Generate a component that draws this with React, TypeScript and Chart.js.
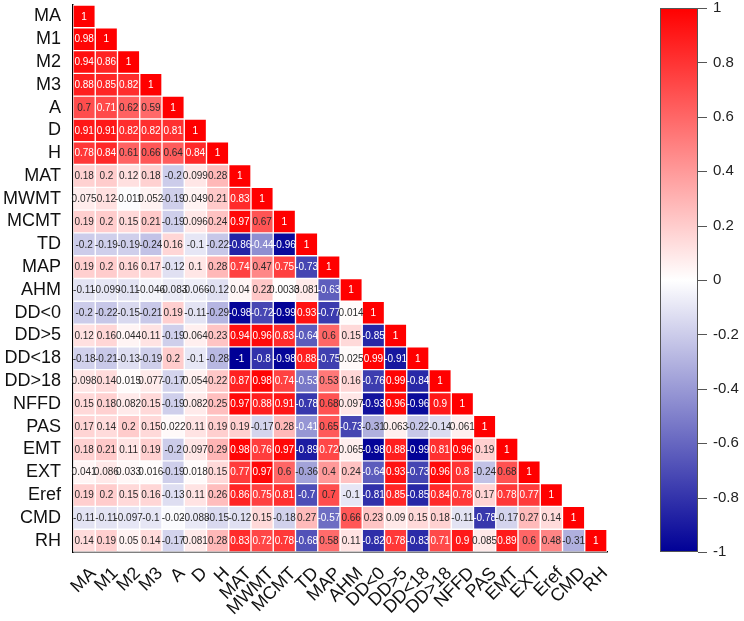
import React, { useEffect, useRef } from "react";
import { Chart, registerables } from "chart.js";

Chart.register(...registerables);

const varNames = ["MA", "M1", "M2", "M3", "A", "D", "H", "MAT", "MWMT", "MCMT", "TD", "MAP", "AHM", "DD<0", "DD>5", "DD<18", "DD>18", "NFFD", "PAS", "EMT", "EXT", "Eref", "CMD", "RH"];

const rMA = [1];
const rM1 = [0.98, 1];
const rM2 = [0.94, 0.86, 1];
const rM3 = [0.88, 0.85, 0.82, 1];
const rA = [0.7, 0.71, 0.62, 0.59, 1];
const rD = [0.91, 0.91, 0.82, 0.82, 0.81, 1];
const rH = [0.78, 0.84, 0.61, 0.66, 0.64, 0.84, 1];
const rMAT = [0.18, 0.2, 0.12, 0.18, -0.2, 0.099, 0.28, 1];
const rMWMT = [0.075, 0.12, -0.011, 0.052, -0.19, 0.049, 0.21, 0.83, 1];
const rMCMT = [0.19, 0.2, 0.15, 0.21, -0.19, 0.096, 0.24, 0.97, 0.67, 1];
const rTD = [-0.2, -0.19, -0.19, -0.24, 0.16, -0.1, -0.22, -0.86, -0.44, -0.96, 1];
const rMAP = [0.19, 0.2, 0.16, 0.17, -0.12, 0.1, 0.28, 0.74, 0.47, 0.75, -0.73, 1];
const rAHM = [-0.11, -0.099, -0.11, -0.046, -0.083, -0.066, -0.12, 0.04, 0.22, 0.0033, 0.081, -0.63, 1];
const rDDlt0 = [-0.2, -0.22, -0.15, -0.21, 0.19, -0.11, -0.29, -0.98, -0.72, -0.99, 0.93, -0.77, 0.014, 1];
const rDDgt5 = [0.12, 0.16, 0.044, 0.11, -0.19, 0.064, 0.23, 0.94, 0.96, 0.83, -0.64, 0.6, 0.15, -0.85, 1];
const rDDlt18 = [-0.18, -0.21, -0.13, -0.19, 0.2, -0.1, -0.28, -1, -0.8, -0.98, 0.88, -0.75, 0.025, 0.99, -0.91, 1];
const rDDgt18 = [0.098, 0.14, 0.015, 0.077, -0.17, 0.054, 0.22, 0.87, 0.98, 0.74, -0.53, 0.53, 0.16, -0.76, 0.99, -0.84, 1];
const rNFFD = [0.15, 0.18, 0.082, 0.15, -0.19, 0.082, 0.25, 0.97, 0.88, 0.91, -0.78, 0.68, 0.097, -0.93, 0.96, -0.96, 0.9, 1];
const rPAS = [0.17, 0.14, 0.2, 0.15, 0.022, 0.11, 0.19, 0.19, -0.17, 0.28, -0.41, 0.65, -0.73, -0.31, 0.063, -0.22, -0.14, 0.061, 1];
const rEMT = [0.18, 0.21, 0.11, 0.19, -0.2, 0.097, 0.29, 0.98, 0.76, 0.97, -0.89, 0.72, 0.065, -0.98, 0.88, -0.99, 0.81, 0.96, 0.19, 1];
const rEXT = [0.041, 0.086, 0.033, 0.016, -0.19, 0.018, 0.15, 0.77, 0.97, 0.6, -0.36, 0.4, 0.24, -0.64, 0.93, -0.73, 0.96, 0.8, -0.24, 0.68, 1];
const rEref = [0.19, 0.2, 0.15, 0.16, -0.13, 0.11, 0.26, 0.86, 0.75, 0.81, -0.7, 0.7, -0.1, -0.81, 0.85, -0.85, 0.84, 0.78, 0.17, 0.78, 0.77, 1];
const rCMD = [-0.11, -0.11, -0.097, -0.1, -0.02, -0.088, -0.15, -0.12, 0.15, -0.18, 0.27, -0.57, 0.66, 0.23, 0.09, 0.15, 0.18, -0.11, -0.78, -0.17, 0.27, 0.14, 1];
const rRH = [0.14, 0.19, 0.05, 0.14, -0.17, 0.081, 0.28, 0.83, 0.72, 0.78, -0.68, 0.58, 0.11, -0.82, 0.78, -0.83, 0.71, 0.9, 0.085, 0.89, 0.6, 0.48, -0.31, 1];

const matrixRows = [rMA, rM1, rM2, rM3, rA, rD, rH, rMAT, rMWMT, rMCMT, rTD, rMAP, rAHM, rDDlt0, rDDgt5, rDDlt18, rDDgt18, rNFFD, rPAS, rEMT, rEXT, rEref, rCMD, rRH];

const colorbarTicks = [1, 0.8, 0.6, 0.4, 0.2, 0, -0.2, -0.4, -0.6, -0.8, -1];

const FONT = 'Arial, "Liberation Sans", sans-serif';

function cellColor(v: number): string {
  if (v >= 0) {
    const g = Math.round(255 * (1 - v));
    return `rgb(255,${g},${g})`;
  }
  const t = -v;
  const rg = Math.round(255 * (1 - t));
  const b = Math.round(255 - 105 * t);
  return `rgb(${rg},${rg},${b})`;
}

function textColor(v: number): string {
  if (v > 0.705 || v < -0.405) return "#ffffff";
  return "#2a2a2a";
}

const valueLabelPlugin = {
  id: "valueLabels",
  afterDatasetsDraw(chart: any) {
    const ctx = chart.ctx;
    ctx.save();
    ctx.font = `10px ${FONT}`;
    ctx.textAlign = "center";
    ctx.textBaseline = "middle";
    chart.data.datasets.forEach((ds: any, di: number) => {
      const meta = chart.getDatasetMeta(di);
      const row = matrixRows[di];
      meta.data.forEach((el: any, ci: number) => {
        if (ci >= row.length) return;
        const v = row[ci];
        const cy = (el.y + el.base) / 2;
        ctx.fillStyle = textColor(v);
        ctx.fillText(String(v), el.x, cy + 0.5);
      });
    });
    ctx.restore();
  },
};

const colorbarPlugin = {
  id: "colorbar",
  afterDraw(chart: any) {
    const ctx = chart.ctx;
    const x0 = 660, x1 = 698, y0 = 8, y1 = 552;
    ctx.save();
    const grad = ctx.createLinearGradient(0, y0, 0, y1);
    grad.addColorStop(0, cellColor(1));
    grad.addColorStop(0.25, cellColor(0.5));
    grad.addColorStop(0.5, cellColor(0));
    grad.addColorStop(0.75, cellColor(-0.5));
    grad.addColorStop(1, cellColor(-1));
    ctx.fillStyle = grad;
    ctx.fillRect(x0, y0, x1 - x0, y1 - y0);
    ctx.strokeStyle = "#555";
    ctx.lineWidth = 1;
    ctx.strokeRect(x0 + 0.5, y0 + 0.5, x1 - x0 - 1, y1 - y0 - 1);
    ctx.font = `15px ${FONT}`;
    ctx.fillStyle = "#222";
    ctx.textAlign = "left";
    ctx.textBaseline = "middle";
    colorbarTicks.forEach((t) => {
      const y = y0 + ((1 - t) / 2) * (y1 - y0);
      ctx.beginPath();
      ctx.moveTo(x1, Math.round(y) + 0.5);
      ctx.lineTo(x1 + 9, Math.round(y) + 0.5);
      ctx.stroke();
      ctx.fillText(String(t), x1 + 15, y);
    });
    ctx.restore();
  },
};

export default function App() {
  const canvasRef = useRef<HTMLCanvasElement | null>(null);

  useEffect(() => {
    if (!canvasRef.current) return;
    const n = varNames.length;
    const datasets = matrixRows.map((row, ri) => {
      const data: any[] = [];
      const colors: string[] = [];
      for (let c = 0; c < n; c++) {
        if (c < row.length) {
          data.push([ri + 0.5, ri + 1.5]);
          colors.push(cellColor(row[c]));
        } else {
          data.push(null);
          colors.push("rgba(0,0,0,0)");
        }
      }
      return {
        label: varNames[ri],
        data,
        backgroundColor: colors,
        borderColor: "rgba(255,255,255,0.75)",
        borderWidth: 1,
        borderSkipped: false,
        grouped: false,
        barPercentage: 1,
        categoryPercentage: 1,
      };
    });

    const chart = new Chart(canvasRef.current, {
      type: "bar",
      data: { labels: varNames, datasets },
      options: {
        animation: false,
        responsive: true,
        maintainAspectRatio: false,
        layout: { padding: { left: 0, top: 5, right: 137, bottom: 0 } },
        plugins: { legend: { display: false }, tooltip: { enabled: false } },
        scales: {
          x: {
            type: "category",
            offset: true,
            grid: { display: false, drawTicks: false },
            border: { display: true, color: "#000", width: 1.5 },
            ticks: {
              autoSkip: false,
              maxRotation: 45,
              minRotation: 45,
              padding: 11,
              labelOffset: 9,
              color: "#111",
              font: { size: 18, family: FONT },
            },
            afterFit: (s: any) => {
              s.height = 69;
              s.paddingLeft = 0;
              s.paddingRight = 0;
            },
          },
          y: {
            type: "linear",
            reverse: true,
            min: 0.5,
            max: 24.5,
            grid: { display: false, drawTicks: false },
            border: { display: true, color: "#000", width: 1.5 },
            afterBuildTicks: (s: any) => {
              s.ticks = varNames.map((_, i) => ({ value: i + 1 }));
            },
            ticks: {
              autoSkip: false,
              padding: 12,
              color: "#111",
              font: { size: 18, family: FONT },
              callback: (v: any) => varNames[Math.round(v) - 1] ?? "",
            },
            afterFit: (s: any) => {
              s.width = 73;
              s.paddingTop = 0;
              s.paddingBottom = 0;
            },
          },
        },
      } as any,
      plugins: [valueLabelPlugin, colorbarPlugin],
    });
    return () => chart.destroy();
  }, []);

  return (
    <div style={{ position: "absolute", left: 0, top: 0, width: 744, height: 621, background: "#fff" }}>
      <canvas ref={canvasRef} />
    </div>
  );
}
